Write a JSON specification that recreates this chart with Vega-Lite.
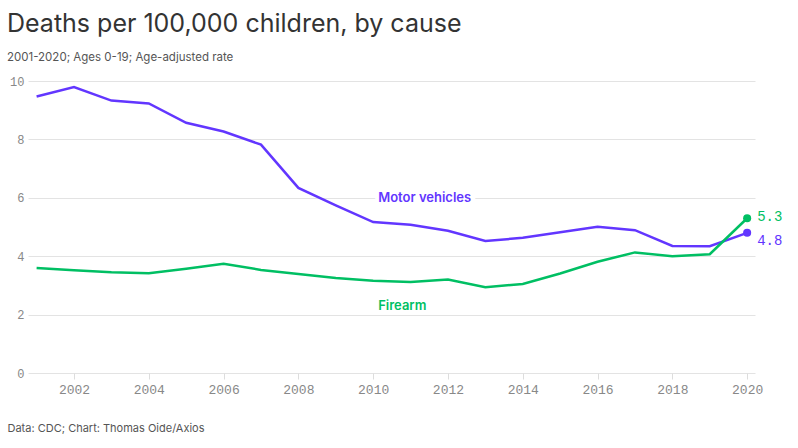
{
  "$schema": "https://vega.github.io/schema/vega-lite/v6.json",
  "width": 727,
  "height": 292,
  "autosize": {"type": "none"},
  "padding": {"left": 28, "top": 81, "right": 43, "bottom": 75},
  "background": "white",
  "title": {
    "text": "Deaths per 100,000 children, by cause",
    "subtitle": "2001-2020; Ages 0-19; Age-adjusted rate",
    "anchor": "start",
    "frame": "group",
    "dx": -21,
    "offset": 12,
    "font": "Inter",
    "fontSize": 25,
    "fontWeight": 400,
    "color": "#333333",
    "subtitleFont": "Inter",
    "subtitleFontSize": 11.5,
    "subtitleColor": "#555555",
    "subtitlePadding": 15
  },
  "data": {
    "values": [
      {"year": 2001, "cause": "Motor vehicles", "rate": 9.47},
      {"year": 2002, "cause": "Motor vehicles", "rate": 9.79},
      {"year": 2003, "cause": "Motor vehicles", "rate": 9.33},
      {"year": 2004, "cause": "Motor vehicles", "rate": 9.23},
      {"year": 2005, "cause": "Motor vehicles", "rate": 8.57},
      {"year": 2006, "cause": "Motor vehicles", "rate": 8.27},
      {"year": 2007, "cause": "Motor vehicles", "rate": 7.82},
      {"year": 2008, "cause": "Motor vehicles", "rate": 6.34},
      {"year": 2009, "cause": "Motor vehicles", "rate": 5.74},
      {"year": 2010, "cause": "Motor vehicles", "rate": 5.17},
      {"year": 2011, "cause": "Motor vehicles", "rate": 5.08},
      {"year": 2012, "cause": "Motor vehicles", "rate": 4.87},
      {"year": 2013, "cause": "Motor vehicles", "rate": 4.52},
      {"year": 2014, "cause": "Motor vehicles", "rate": 4.63},
      {"year": 2015, "cause": "Motor vehicles", "rate": 4.82},
      {"year": 2016, "cause": "Motor vehicles", "rate": 5.01},
      {"year": 2017, "cause": "Motor vehicles", "rate": 4.89},
      {"year": 2018, "cause": "Motor vehicles", "rate": 4.35},
      {"year": 2019, "cause": "Motor vehicles", "rate": 4.34},
      {"year": 2020, "cause": "Motor vehicles", "rate": 4.8},
      {"year": 2001, "cause": "Firearm", "rate": 3.6},
      {"year": 2002, "cause": "Firearm", "rate": 3.52},
      {"year": 2003, "cause": "Firearm", "rate": 3.45},
      {"year": 2004, "cause": "Firearm", "rate": 3.42},
      {"year": 2005, "cause": "Firearm", "rate": 3.57},
      {"year": 2006, "cause": "Firearm", "rate": 3.74},
      {"year": 2007, "cause": "Firearm", "rate": 3.53},
      {"year": 2008, "cause": "Firearm", "rate": 3.39},
      {"year": 2009, "cause": "Firearm", "rate": 3.25},
      {"year": 2010, "cause": "Firearm", "rate": 3.16},
      {"year": 2011, "cause": "Firearm", "rate": 3.12},
      {"year": 2012, "cause": "Firearm", "rate": 3.2},
      {"year": 2013, "cause": "Firearm", "rate": 2.94},
      {"year": 2014, "cause": "Firearm", "rate": 3.05},
      {"year": 2015, "cause": "Firearm", "rate": 3.41},
      {"year": 2016, "cause": "Firearm", "rate": 3.81},
      {"year": 2017, "cause": "Firearm", "rate": 4.13},
      {"year": 2018, "cause": "Firearm", "rate": 4.0},
      {"year": 2019, "cause": "Firearm", "rate": 4.07},
      {"year": 2020, "cause": "Firearm", "rate": 5.3}
    ]
  },
  "encoding": {
    "x": {
      "field": "year",
      "type": "quantitative",
      "scale": {"domain": [2000.77, 2020.21], "nice": false, "zero": false},
      "axis": {
        "values": [2002, 2004, 2006, 2008, 2010, 2012, 2014, 2016, 2018, 2020],
        "format": "d",
        "grid": false,
        "domain": false,
        "ticks": true,
        "tickColor": "#dddddd",
        "tickSize": 6,
        "labelFont": "Liberation Mono",
        "labelFontSize": 13,
        "labelColor": "#888888",
        "labelPadding": 4,
        "title": "Data: CDC; Chart: Thomas Oide/Axios",
        "titleFont": "Inter",
        "titleFontSize": 11,
        "titleFontWeight": 400,
        "titleColor": "#555555",
        "titleAnchor": "start",
        "titleAlign": "left",
        "titleBaseline": "middle",
        "titleX": -21,
        "titleY": 55
      }
    },
    "y": {
      "field": "rate",
      "type": "quantitative",
      "scale": {"domain": [0, 10], "nice": false},
      "axis": {
        "values": [0, 2, 4, 6, 8, 10],
        "grid": true,
        "gridColor": "#e3e3e3",
        "gridWidth": 1,
        "domain": false,
        "ticks": false,
        "labelFont": "Liberation Mono",
        "labelFontSize": 12,
        "labelColor": "#888888",
        "labelPadding": 4,
        "title": null
      }
    },
    "color": {
      "field": "cause",
      "type": "nominal",
      "scale": {"domain": ["Motor vehicles", "Firearm"], "range": ["#6236ff", "#00bf63"]},
      "legend": null
    }
  },
  "layer": [
    {"mark": {"type": "line", "strokeWidth": 2.5}},
    {
      "transform": [{"filter": "datum.year == 2020"}],
      "mark": {"type": "point", "filled": true, "size": 65, "opacity": 1}
    },
    {
      "transform": [{"filter": "datum.year == 2020 && datum.cause == 'Firearm'"}],
      "mark": {"type": "text", "align": "left", "baseline": "middle", "dx": 10, "dy": -1, "font": "Liberation Mono", "fontSize": 14},
      "encoding": {"text": {"field": "rate", "type": "quantitative", "format": ".1f"}}
    },
    {
      "transform": [{"filter": "datum.year == 2020 && datum.cause == 'Motor vehicles'"}],
      "mark": {"type": "text", "align": "left", "baseline": "middle", "dx": 10, "dy": 8, "font": "Liberation Mono", "fontSize": 14},
      "encoding": {"text": {"field": "rate", "type": "quantitative", "format": ".1f"}}
    },
    {
      "transform": [{"filter": "datum.year == 2010 && datum.cause == 'Motor vehicles'"}],
      "mark": {"type": "text", "align": "left", "baseline": "middle", "dx": 5, "dy": -24, "font": "Inter", "fontSize": 13, "fontWeight": 600, "stroke": "white", "strokeWidth": 8},
      "encoding": {"text": {"field": "cause", "type": "nominal"}, "color": {"value": "white"}}
    },
    {
      "transform": [{"filter": "datum.year == 2010 && datum.cause == 'Motor vehicles'"}],
      "mark": {"type": "text", "align": "left", "baseline": "middle", "dx": 5, "dy": -24, "font": "Inter", "fontSize": 13, "fontWeight": 600},
      "encoding": {"text": {"field": "cause", "type": "nominal"}}
    },
    {
      "transform": [{"filter": "datum.year == 2010 && datum.cause == 'Firearm'"}],
      "mark": {"type": "text", "align": "left", "baseline": "middle", "dx": 5, "dy": 25, "font": "Inter", "fontSize": 13, "fontWeight": 600},
      "encoding": {"text": {"field": "cause", "type": "nominal"}}
    }
  ],
  "config": {"view": {"stroke": null}}
}
